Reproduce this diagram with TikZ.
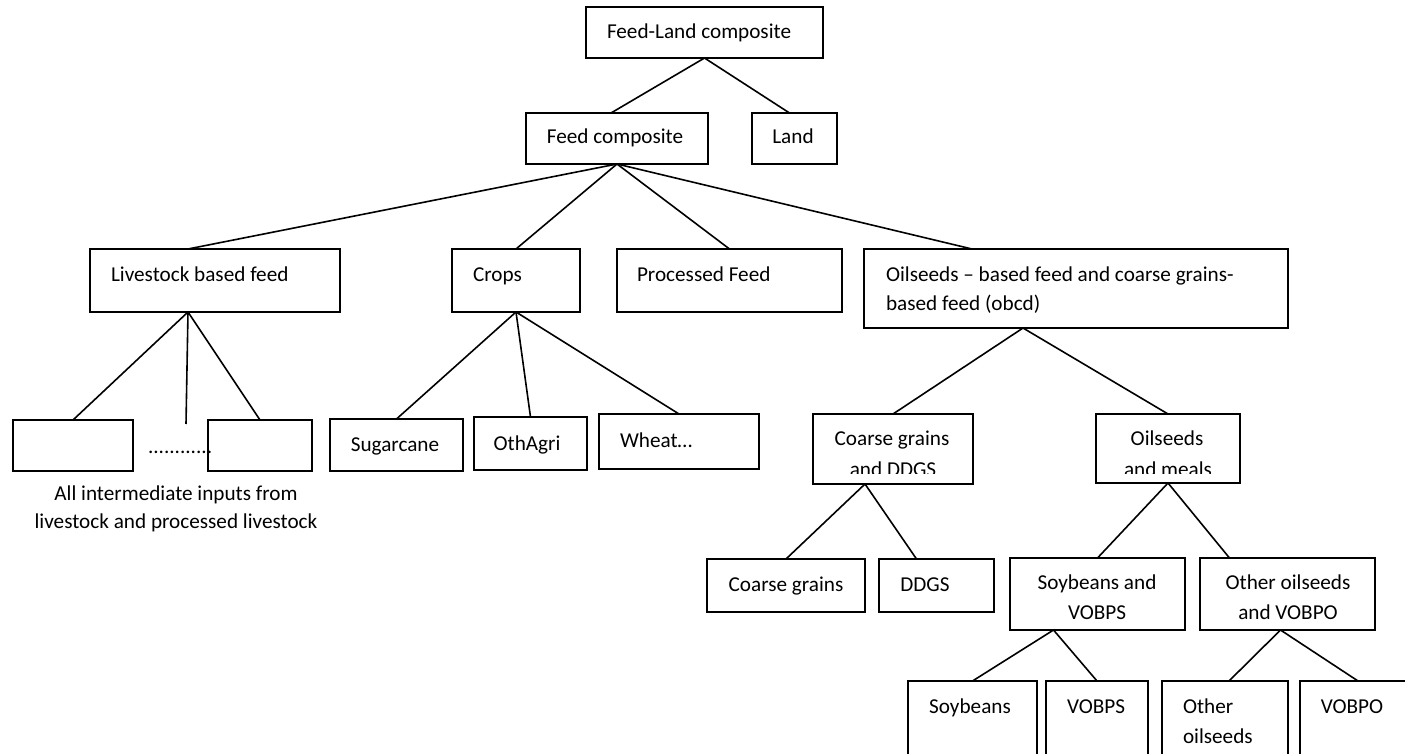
\documentclass[tikz,border=0pt]{standalone}
\usepackage{fontspec}
\setmainfont{Carlito}
\usetikzlibrary{calc}
\begin{document}
\begin{tikzpicture}[x=1pt,y=-1pt,
  box/.style={draw, line width=1.6pt, rectangle, inner sep=0pt, outer sep=0pt, anchor=north west},
  lbl/.style={inner sep=0pt, outer sep=0pt, font=\fontsize{21.2}{28}\selectfont},
  conn/.style={line width=1.6pt}]
\useasboundingbox (0,0) rectangle (1405,754);
\clip (0,0) rectangle (1405,754);

% boxes
\node[box, minimum width=237pt, minimum height=51pt] (flc) at (586,7) {};
\node[box, minimum width=182pt, minimum height=51pt] (fc) at (526,113) {};
\node[box, minimum width=85pt, minimum height=51pt] (land) at (752,113) {};
\node[box, minimum width=250pt, minimum height=63pt] (lbf) at (90,249) {};
\node[box, minimum width=128pt, minimum height=63pt] (crops) at (452,249) {};
\node[box, minimum width=225pt, minimum height=63pt] (pf) at (617,249) {};
\node[box, minimum width=424pt, minimum height=79pt] (obcd) at (864,249) {};
\node[box, minimum width=120pt, minimum height=51pt] (e1) at (13,420) {};
\node[box, minimum width=104pt, minimum height=51pt] (e2) at (208,420) {};
\node[box, minimum width=133pt, minimum height=52pt] (sug) at (330,419) {};
\node[box, minimum width=113pt, minimum height=53pt] (oth) at (474,417) {};
\node[box, minimum width=160pt, minimum height=55pt] (wh) at (599,414) {};
\node[box, minimum width=160pt, minimum height=70pt] (cgd) at (813,414) {};
\node[box, minimum width=144pt, minimum height=69pt] (osm) at (1096,414) {};
\node[box, minimum width=158pt, minimum height=53pt] (cg) at (707,559) {};
\node[box, minimum width=115pt, minimum height=53pt] (ddgs) at (879,559) {};
\node[box, minimum width=175pt, minimum height=72pt] (sbv) at (1010,558) {};
\node[box, minimum width=175pt, minimum height=72pt] (oov) at (1200,558) {};
\node[box, minimum width=129pt, minimum height=99pt] (sb) at (908,681) {};
\node[box, minimum width=102pt, minimum height=99pt] (vps) at (1046,681) {};
\node[box, minimum width=126pt, minimum height=99pt] (oo) at (1162,681) {};
\node[box, minimum width=116pt, minimum height=99pt] (vpo) at (1300,681) {};

% labels
\node[lbl, anchor=base west] (flc-t) at (607,39) {Feed-Land composite};
\node[lbl, anchor=base] (fc-t) at (615,144) {Feed composite};
\node[lbl, anchor=base] (land-t) at (793,144) {Land};
\node[lbl, anchor=base west] (lbf-t) at (111,281) {Livestock based feed};
\node[lbl, anchor=base west] (crops-t) at (473,281) {Crops};
\node[lbl, anchor=base west] (pf-t) at (637,281) {Processed Feed};
\node[lbl, anchor=base west] (obcd-t1) at (886,281) {Oilseeds – based feed and coarse grains-};
\node[lbl, anchor=base west] (obcd-t2) at (886,310) {based feed (obcd)};
\node[lbl, anchor=base west] (dots) at (148,453) {............};
\node[lbl, anchor=base] (cap1) at (176,500) {All intermediate inputs from};
\node[lbl, anchor=base] (cap2) at (176,528) {livestock and processed livestock};
\node[lbl, anchor=base] (sug-t) at (395,451) {Sugarcane};
\node[lbl, anchor=base] (oth-t) at (527,450) {OthAgri};
\node[lbl, anchor=base west] (wh-t) at (620,447) {Wheat…};
\begin{scope}
  \clip (813,414) rectangle (973,473);
  \node[lbl, anchor=base] (cgd-t1) at (892,445) {Coarse grains};
  \node[lbl, anchor=base] (cgd-t2) at (893,476) {and DDGS};
\end{scope}
\begin{scope}
  \clip (1096,414) rectangle (1240,473);
  \node[lbl, anchor=base] (osm-t1) at (1167,445) {Oilseeds};
  \node[lbl, anchor=base] (osm-t2) at (1168,476) {and meals};
\end{scope}
\node[lbl, anchor=base] (cg-t) at (786,591) {Coarse grains};
\node[lbl, anchor=base] (ddgs-t) at (925,591) {DDGS};
\node[lbl, anchor=base] (sbv-t1) at (1097,589) {Soybeans and};
\node[lbl, anchor=base] (sbv-t2) at (1097,619) {VOBPS};
\node[lbl, anchor=base] (oov-t1) at (1288,589) {Other oilseeds};
\node[lbl, anchor=base] (oov-t2) at (1288,619) {and VOBPO};
\node[lbl, anchor=base] (sb-t) at (970,713) {Soybeans};
\node[lbl, anchor=base] (vps-t) at (1096,713) {VOBPS};
\node[lbl, anchor=base west] (oo-t1) at (1183,713) {Other};
\node[lbl, anchor=base west] (oo-t2) at (1183,743) {oilseeds};
\node[lbl, anchor=base] (vpo-t) at (1352,713) {VOBPO};

% connectors
\coordinate (vend) at (186,424);
\draw[conn] (flc.south) -- ([xshift=-6pt]fc.north);
\draw[conn] (flc.south) -- ([xshift=-5pt]land.north);
\draw[conn] (fc.south) -- ([xshift=-27pt]lbf.north);
\draw[conn] (fc.south) -- (crops.north);
\draw[conn] (fc.south) -- (pf.north);
\draw[conn] (fc.south) -- ([xshift=-104pt]obcd.north);
\draw[conn] ([xshift=-27pt]lbf.south) -- (e1.north);
\draw[conn] ([xshift=-27pt]lbf.south) -- (vend);
\draw[conn] ([xshift=-27pt]lbf.south) -- (e2.north);
\draw[conn] (crops.south) -- (sug.north);
\draw[conn] (crops.south) -- (oth.north);
\draw[conn] (crops.south) -- (wh.north);
\draw[conn] ([xshift=-53pt]obcd.south) -- (cgd.north);
\draw[conn] ([xshift=-53pt]obcd.south) -- (osm.north);
\draw[conn] ([xshift=-28pt]cgd.south) -- (cg.north);
\draw[conn] ([xshift=-28pt]cgd.south) -- ([xshift=-20pt]ddgs.north);
\draw[conn] (osm.south) -- (sbv.north);
\draw[conn] (osm.south) -- ([xshift=-58pt]oov.north);
\draw[conn] ([xshift=-44pt]sbv.south) -- (sb.north);
\draw[conn] ([xshift=-44pt]sbv.south) -- (vps.north);
\draw[conn] ([xshift=-7pt]oov.south) -- ([xshift=4pt]oo.north);
\draw[conn] ([xshift=-7pt]oov.south) -- (vpo.north);
\end{tikzpicture}
\end{document}
